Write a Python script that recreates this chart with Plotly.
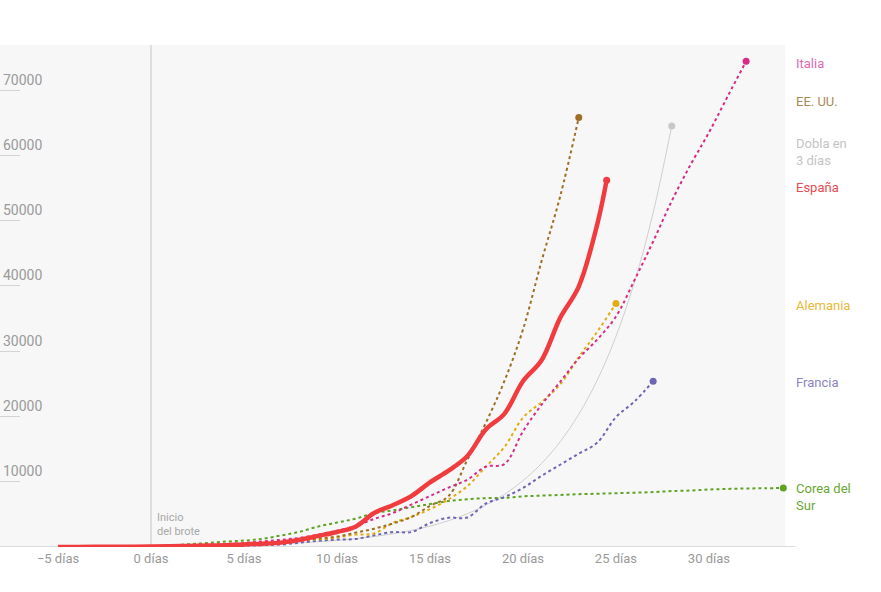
import plotly.graph_objects as go

# Casos acumulados por días desde el inicio del brote
dias_espana = [-5, -4, -3, -2, -1, 0, 1, 2, 3, 4, 5, 6, 7, 8, 9, 10, 11, 12, 13, 14,
               15, 16, 17, 18, 19, 20, 21, 22, 23, 24, 24.5]
casos_espana = [0, 10, 20, 30, 50, 80, 120, 170, 220, 260, 400, 500, 670, 1100, 1700,
                2300, 3100, 5200, 6400, 7800, 9900, 11700, 13900, 18000, 20400, 25400,
                28600, 35100, 39900, 49500, 56200]

dias_italia = list(range(0, 33))
casos_italia = [80, 150, 230, 320, 450, 600, 850, 1100, 1400, 1900, 2500, 3200, 4300,
                5200, 6500, 7800, 9100, 10300, 12300, 12700, 17700, 21800, 25300, 28900,
                31800, 35300, 40900, 46800, 53000, 58500, 63500, 69000, 74400]

dias_eeuu = list(range(0, 24))
casos_eeuu = [100, 120, 160, 220, 320, 440, 540, 700, 1000, 1300, 1600, 2200, 2800,
              3600, 4600, 6300, 7800, 13300, 19000, 25400, 33300, 43800, 53700, 65800]

dias_dobla = list(range(0, 29))
casos_dobla = [100, 126, 159, 200, 252, 317, 400, 504, 635, 800, 1008, 1270, 1600, 2016,
               2540, 3200, 4032, 5080, 6400, 8063, 10159, 12800, 16127, 20319, 25600,
               32254, 40637, 51200, 64508]

dias_alemania = list(range(0, 26))
casos_alemania = [80, 130, 160, 200, 260, 480, 670, 800, 1040, 1180, 1460, 1900, 2080,
                  3700, 4600, 5800, 7300, 9300, 12300, 15300, 19800, 22200, 24900, 29100,
                  33000, 37300]

dias_francia = list(range(0, 28))
casos_francia = [40, 60, 100, 130, 190, 200, 290, 380, 660, 960, 1130, 1220, 1790, 2290,
                 2290, 3670, 4480, 4510, 6650, 7650, 9040, 10900, 12600, 14300, 16000,
                 19900, 22300, 25400]

dias_corea = list(range(0, 35))
casos_corea = [100, 200, 430, 600, 830, 980, 1260, 1770, 2340, 3150, 3740, 4340, 5190,
               5620, 6090, 6590, 7040, 7310, 7480, 7510, 7760, 7870, 7980, 8090, 8160,
               8240, 8320, 8410, 8570, 8650, 8800, 8900, 8960, 9000, 9040]

ticks_x = [-5, 0, 5, 10, 15, 20, 25, 30]
etiquetas_x = ["\u22125 días", "0 días", "5 días", "10 días", "15 días", "20 días",
               "25 días", "30 días"]
ticks_y = [10000, 20000, 30000, 40000, 50000, 60000, 70000]

# (nombre, etiqueta, x, y, color línea, color texto, ancho, estilo)
series = [
    ("Dobla en 3 días", "Dobla en<br>3 días", dias_dobla, casos_dobla, "#cfcfcf", "#c4c4c4", 1, "solid"),
    ("Corea del Sur", "Corea del<br>Sur", dias_corea, casos_corea, "#5ea324", "#6aa632", 2, "dot"),
    ("Francia", "Francia", dias_francia, casos_francia, "#6d66b3", "#8a84c4", 2, "dot"),
    ("Alemania", "Alemania", dias_alemania, casos_alemania, "#e2ad12", "#e8b83a", 2, "dot"),
    ("EE. UU.", "EE. UU.", dias_eeuu, casos_eeuu, "#9c6f22", "#a88a55", 2, "dot"),
    ("Italia", "Italia", dias_italia, casos_italia, "#d82a86", "#e46bb3", 2, "dot"),
    ("España", "España", dias_espana, casos_espana, "#f03c3f", "#e94b50", 4.5, "solid"),
]

# posición vertical de las etiquetas a la derecha (en valores del eje)
pos_etiquetas = {
    "Italia": 74000, "EE. UU.": 68300, "Dobla en 3 días": 60500, "España": 55000,
    "Alemania": 37000, "Francia": 25200, "Corea del Sur": 7600,
}

fig = go.Figure()

# línea base del eje x, algo más larga que el área del gráfico
fig.add_shape(type="line", x0=0, x1=1.013, xref="paper", y0=0, y1=0, yref="y",
              line=dict(color="#dcdcdc", width=2), layer="below")
# línea vertical del inicio del brote
fig.add_shape(type="line", x0=0, x1=0, xref="x", y0=0, y1=1, yref="paper",
              line=dict(color="#c4c4c4", width=1), layer="below")

for nombre, etiqueta, xs, ys, col, col_txt, ancho, estilo in series:
    fig.add_trace(go.Scatter(
        x=xs, y=ys, mode="lines", name=nombre,
        line=dict(color=col, width=ancho, dash=estilo, shape="spline", smoothing=1.0),
        hoverinfo="skip",
    ))
    fig.add_trace(go.Scatter(
        x=[xs[-1]], y=[ys[-1]], mode="markers",
        marker=dict(color=col if nombre != "Dobla en 3 días" else "#c8c8c8", size=7),
        cliponaxis=False, hoverinfo="skip",
    ))
    fig.add_annotation(
        x=1.012, xref="paper", y=pos_etiquetas[nombre], yref="y",
        text=etiqueta, showarrow=False, xanchor="left", yanchor="middle", align="left",
        font=dict(family="Roboto", size=13, color=col_txt),
    )

fig.add_annotation(x=0.2, y=1000, xref="x", yref="y", text="Inicio<br>del brote",
                   showarrow=False, xanchor="left", yanchor="bottom", align="left",
                   font=dict(family="Roboto", size=11, color="#a8a8a8"))

fig.update_layout(
    width=881, height=592,
    margin=dict(l=0, r=96, t=45, b=45),
    paper_bgcolor="white", plot_bgcolor="#f7f7f7",
    showlegend=False,
    font=dict(family="Roboto", color="#9a9a9a"),
)
fig.update_xaxes(
    range=[-8.12, 34.09], tickvals=ticks_x, ticktext=etiquetas_x,
    showgrid=False, zeroline=False, showline=False,
    tickfont=dict(size=13, color="#9a9a9a"), ticks="", ticklabelstandoff=2,
)
fig.update_yaxes(
    range=[0, 76900], tickvals=ticks_y, showgrid=False, zeroline=False,
    ticks="inside", ticklen=20, tickcolor="#d4d4d4", tickwidth=1,
    ticklabelposition="inside top", tickformat="d",
    tickfont=dict(size=14, color="#9a9a9a"),
)

fig.write_html("out.html", config={"displayModeBar": False},
               post_script="document.body.style.margin='0';")
